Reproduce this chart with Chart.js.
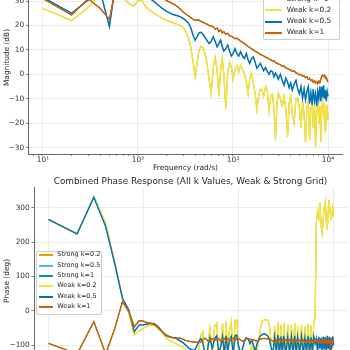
<!DOCTYPE html>
<html>
<head>
<meta charset="utf-8">
<script src="https://cdn.jsdelivr.net/npm/chart.js@4.4.1/dist/chart.umd.min.js"></script>
<style>
  body { margin:0; width:350px; height:350px; overflow:hidden; background:#fff; position:relative; font-family:'DejaVu Sans', sans-serif; }
  canvas { position:absolute; left:0; }
  #magChart { top:-50px; }
  #phaseChart { top:170px; }
  .title { position:absolute; left:0; width:381px; top:175.5px; line-height:11px; font-size:8.9px; text-align:center; color:#262626; white-space:nowrap; }
  .legend { position:absolute; box-sizing:border-box; background:rgba(255,255,255,0.8); border:1px solid #cccccc; border-radius:2px; }
  .swatch { position:absolute; }
  .entry { position:absolute; color:#262626; white-space:nowrap; }
</style>
</head>
<body>
<canvas id="magChart" width="350" height="226"></canvas>
<canvas id="phaseChart" width="350" height="230"></canvas>
<div class="title">Combined Phase Response (All k Values, Weak &amp; Strong Grid)</div>
<script>
// FREQUENCY GRID (rad/s)

const freq = [
  10, 20, 30, 40, 50, 60, 70, 80, 90, 100,
  110, 120, 130, 140, 150, 160, 170, 180, 190, 200,
  210, 220, 230, 240, 250, 260, 270, 280, 290, 300,
  320, 340, 360, 380, 400, 420, 440, 460, 480, 500,
  530, 560, 590, 620, 650, 680, 710, 740, 770, 800,
  840, 880, 920, 960, 1000, 1050, 1100, 1150, 1200, 1260,
  1320, 1380, 1440, 1500, 1570, 1640, 1710, 1780, 1860, 1940,
  2020, 2100, 2200, 2300, 2400, 2500, 2600, 2700, 2800, 2900,
  3000, 3150, 3300, 3450, 3600, 3750, 3900, 4050, 4200, 4400,
  4600, 4800, 5000, 5200, 5400, 5600, 5800, 6000, 6200, 6400,
  6600, 6800, 7000, 7200, 7400, 7600, 7800, 8000, 8200, 8400,
  8600, 8800, 9000, 9200, 9400, 9600, 9800, 10000
];

// MAGNITUDE (dB)

const magWeak02 = [
  27, 22, 27.5, 33, 36, 38, 31.5, 29, 28, 30,
  30.3, 27.8, 26.5, 25.6, 24.8, 24.2, 23.6, 23, 22.5, 22.1,
  21.8, 21.5, 21.2, 21, 20.6, 20.4, 20.2, 20, 19.6, 19,
  17.5, 15, 11, 5, -1, 5, 10, 11.5, 11, 9.5,
  5, -2, -8, 3, 7, 2, -9, 2, 6.5, 0,
  -14, 1, 5, 3, -2, 2, 3.5, 1, 3.8, 2,
  0.5, -3, -8, -2, 0.5, -4, -8, -14.6, -9, -6,
  -6.4, -9, -5, -7, -15, -9, -8, -14, -27, -12,
  -7.7, -10, -13, -9, -14, -25.5, -12, -9, -16, -20,
  -10, -9.8, -14, -22, -11, -16, -28, -13, -11, -27,
  -14, -12, -22, -13, -29.6, -12, -11, -20, -13, -27.6,
  -13, -11, -18, -12, -24, -16, -12.5, -18.7
];

const magWeak05 = [
  31.5, 25, 30.5, 34, 19.5, 41, 39, 37, 35.5, 34.5,
  33.5, 32.5, 31.5, 30.5, 29.6, 28.6, 27.8, 27, 26.4, 25.8,
  25.4, 25, 24.6, 24.4, 24.2, 24, 23.8, 23.5, 23.2, 22.8,
  22, 21, 19, 16, 14, 15.5, 17, 17.2, 16.5, 15.5,
  14, 12.6, 13.5, 15.4, 13.5, 11.3, 12.5, 14, 11.5, 9.5,
  10.5, 12, 9.5, 7.5, 8.5, 10.5, 8.5, 7.5, 9.3, 7.5,
  6.5, 8.6, 6, 4.5, 6.5, 7.2, 5, 2.5, 3.5, 4.5,
  3, 1.5, 2.8, 1.2, 0, 1.5, 1.1, -1, 0.5, -0.5,
  -2, 0, -2.5, -4.4, -1.5, -3, -5.5, -3.5, -6.4, -4,
  -2.5, -6, -8, -5, -9.8, -6, -10.5, -7, -5, -11.9,
  -7.5, -12.5, -6, -11, -8, -13, -7, -10, -5, -11,
  -5, -9.5, -4.5, -10, -6.5, -11, -7, -9
];

const magWeak1 = [
  31, 24.3, 31, 27, 22.5, 38, 40, 39, 38, 37.5,
  37, 36, 35, 34.3, 33.5, 32.8, 32, 31.3, 30.8, 30.2,
  29.8, 29.4, 29, 28.6, 28.2, 27.7, 27.2, 26.6, 26, 25.4,
  24.6, 24, 23.2, 22.5, 22.1, 22.3, 22.2, 21.6, 21.4, 21,
  20.6, 20, 19.8, 19.5, 18.5, 19, 17.5, 18.2, 17, 17.5,
  16.5, 16.8, 15.8, 15.6, 15.2, 14.6, 14.8, 14.2, 13.6, 13.2,
  12.6, 12, 11.4, 11, 10.4, 10, 9.4, 9.2, 8.6, 8.2,
  7.8, 7.6, 7, 6.8, 6.2, 6, 5.4, 5.6, 4.8, 4.6,
  4.2, 4, 3.2, 3.4, 2.6, 2.4, 2, 1.8, 1.2, 1.4,
  0.6, 0.4, -0.2, 0, -0.8, -0.6, -1.4, -1, -2, -1.6,
  -2.6, -2.2, -3.2, -2.6, -3.6, -3, -3.8, -2.8, -3.4, -2,
  -0.8, -0.3, -0.8, -0.4, -1.6, -1.2, -2.4, -3.2
];

// PHASE (deg)

const phaseWeak02 = [
  265, 222, 332, 255, 140, 40, -5, -70, -58, -50,
  -44, -41, -42, -48, -56, -65, -76, -82, -86, -89,
  -92, -95, -98, -100, -102, -104, -110, -118, -128, -138,
  -150, -158, -150, -120, -70, -60, -140, -155, -90, -50,
  -120, -46, -36, -140, -100, -35, -150, -31, -130, -60,
  -30, -150, -28, -26, -120, -150, -140, -118, -125, -150,
  -120, -100, -125, -140, -110, -80, -50, -30, -26, -25,
  -27, -35, -90, -150, -45, -140, -32, -150, -40, -150,
  -35, -150, -38, -140, -42, -150, -36, -150, -45, -145,
  -40, -150, -46, -140, -38, -150, -42, -140, -30, -17,
  255, 290, 270, 313, 250, 226, 270, 300, 318, 260,
  235, 290, 323, 290, 264, 280, 299, 270
];

const phaseWeak05 = [
  266, 224, 330, 245, 135, 37, 3, -60, -41, -40,
  -38, -36, -37, -44, -53, -62, -70, -74, -76, -77,
  -78, -80, -83, -86, -89, -92, -96, -100, -104, -108,
  -112, -115, -105, -90, -80, -90, -120, -135, -100, -78,
  -110, -80, -72, -120, -105, -75, -125, -72, -118, -90,
  -74, -125, -72, -70, -100, -125, -110, -90, -78, -80,
  -95, -85, -100, -118, -95, -80, -72, -68, -66, -68,
  -72, -80, -105, -125, -75, -120, -70, -125, -74, -122,
  -72, -125, -75, -120, -74, -125, -72, -122, -76, -120,
  -74, -125, -78, -118, -72, -125, -76, -120, -74, -95,
  -80, -118, -75, -110, -78, -120, -74, -112, -76, -118,
  -72, -110, -75, -115, -78, -108, -74, -100
];

const phaseWeak1 = [
  -94, -125, -31, -125, -50, 27, -2, -46, -28, -30,
  -34, -36, -40, -47, -55, -62, -68, -72, -75, -77,
  -78, -79, -79, -79, -80, -82, -84, -86, -87, -88,
  -89, -90, -91, -92, -90, -85, -79, -82, -88, -84,
  -80, -86, -82, -80, -88, -84, -80, -86, -80, -85,
  -82, -79, -86, -80, -80, -84, -88, -86, -82, -80,
  -82, -85, -83, -86, -88, -85, -82, -80, -80, -80,
  -81, -82, -84, -88, -92, -84, -90, -82, -90, -84,
  -90, -83, -91, -84, -90, -85, -92, -84, -90, -85,
  -91, -84, -92, -86, -90, -84, -92, -86, -90, -84,
  -90, -85, -93, -84, -92, -86, -94, -84, -92, -85,
  -95, -84, -92, -86, -94, -84, -92, -85
];

// strong-grid curves lie under the weak ones in the picture
const magStrong02 = magWeak02;
const magStrong05 = magWeak05;
const magStrong1 = magWeak1;
const phaseStrong02 = phaseWeak02;
const phaseStrong05 = phaseWeak05;
const phaseStrong1 = phaseWeak1;

// TICKS

const freqMajor = [10, 100, 1000, 10000];
const freqMinor = [8, 9, 20, 30, 40, 50, 60, 70, 80, 90, 200, 300, 400, 500, 600, 700, 800, 900,
                   2000, 3000, 4000, 5000, 6000, 7000, 8000, 9000];
const freqLabels = {10: '10\u00b9', 100: '10\u00b2', 1000: '10\u00b3', 10000: '10\u2074'};
const magTicks = [-30, -20, -10, 0, 10, 20, 30, 40];
const phaseTicks = [-100, 0, 100, 200, 300];

const seriesLabels = ['Strong k=0.2', 'Strong k=0.5', 'Strong k=1', 'Weak k=0.2', 'Weak k=0.5', 'Weak k=1'];
const seriesColors = ['#E69F00', '#56B4E9', '#009E73', '#F0E442', '#0072B2', '#D55E00'];


Chart.defaults.font.family = "'DejaVu Sans', sans-serif";
Chart.defaults.color = '#333';

const gridColor = '#e6e6e6';
const spineColor = '#666';

function makeSets(lists) {
  return lists.map((vals, i) => ({
    label: seriesLabels[i],
    data: freq.map((f, j) => ({x: f, y: vals[j]})),
    borderColor: seriesColors[i],
    borderWidth: i < 3 ? 1.1 : 1.4,
    pointRadius: 0,
    tension: 0,
    order: 5 - i
  }));
}

function xAxis(height) {
  return {
    type: 'logarithmic',
    min: 7.08,
    max: 14125,
    bounds: 'data',
    afterBuildTicks: s => { s.ticks = freqMajor.concat(freqMinor).sort((a, b) => a - b).map(v => ({value: v})); },
    afterFit: s => { s.height = height; },
    ticks: {
      autoSkip: false, maxRotation: 0, padding: 0,
      font: {size: 7.4}, color: '#333',
      callback: v => freqLabels[v] || ''
    },
    grid: {
      color: c => (c.tick && freqMajor.includes(c.tick.value)) ? gridColor : 'rgba(0,0,0,0)',
      lineWidth: 0.8, tickLength: 2, tickColor: spineColor, tickWidth: 0.8
    },
    border: {color: spineColor, width: 1},
    title: {display: true, text: 'Frequency (rad/s)', font: {size: 7.4}, color: '#262626', padding: {top: 0, bottom: 3.5}}
  };
}

function yAxis(min, max, ticks, title, width) {
  return {
    min: min,
    max: max,
    bounds: 'data',
    afterBuildTicks: s => { s.ticks = ticks.map(v => ({value: v})); },
    afterFit: s => { s.width = width; },
    ticks: {
      padding: 1.5, font: {size: 7.4}, color: '#333',
      callback: v => String(v).replace('-', '\u2212')
    },
    grid: {color: gridColor, lineWidth: 0.8, tickLength: 3, tickColor: spineColor, tickWidth: 0.8},
    border: {color: spineColor, width: 1},
    title: {display: true, text: title, font: {size: 7.4}, color: '#262626', padding: {top: 2.3, bottom: 0}}
  };
}

function baseOptions(padding, xScale, yScale) {
  return {
    responsive: false,
    animation: false,
    devicePixelRatio: 1,
    layout: {padding: padding},
    plugins: {legend: {display: false}, tooltip: {enabled: false}},
    scales: {x: xScale, y: yScale}
  };
}


// MAGNITUDE CHART

new Chart(document.getElementById('magChart'), {
  type: 'line',
  data: {datasets: makeSets([magStrong02, magStrong05, magStrong1, magWeak02, magWeak05, magWeak1])},
  options: baseOptions({top: 11, right: 7.75, left: 0, bottom: 0},
    xAxis(22), yAxis(-32.6, 46.4, magTicks, 'Magnitude (dB)', 28.75))
});


// PHASE CHART

new Chart(document.getElementById('phaseChart'), {
  type: 'line',
  data: {datasets: makeSets([phaseStrong02, phaseStrong05, phaseStrong1, phaseWeak02, phaseWeak05, phaseWeak1])},
  options: baseOptions({top: 17, right: 2.25, left: 0, bottom: 0},
    xAxis(25), yAxis(-186, 360, phaseTicks, 'Phase (deg)', 34.25))
});


// LEGENDS

function drawLegend(o) {
  const box = document.createElement('div');
  box.className = 'legend';
  Object.assign(box.style, {
    left: o.left + 'px', top: o.top + 'px',
    width: (o.right - o.left) + 'px', height: (o.bottom - o.top) + 'px'
  });
  document.body.appendChild(box);

  seriesLabels.forEach((label, i) => {
    const y = o.firstRow + i * o.rowGap;
    const line = document.createElement('div');
    line.className = 'swatch';
    Object.assign(line.style, {
      left: o.lineX0 + 'px', width: (o.lineX1 - o.lineX0) + 'px',
      top: Math.round(y - 1) + 'px', height: '1.5px', background: seriesColors[i]
    });
    document.body.appendChild(line);

    const text = document.createElement('div');
    text.className = 'entry';
    text.textContent = label;
    Object.assign(text.style, {
      left: o.textX + 'px', top: (y - o.font * 0.6) + 'px',
      fontSize: o.font + 'px', lineHeight: (o.font * 1.2) + 'px'
    });
    document.body.appendChild(text);
  });
}

drawLegend({left: 263.3, right: 340, top: -30, bottom: 39.5,
  firstRow: -23, rowGap: 11.16, lineX0: 265, lineX1: 282, textX: 286.7, font: 7.35});

drawLegend({left: 36, right: 102, top: 251, bottom: 315,
  firstRow: 255.3, rowGap: 10.35, lineX0: 39, lineX1: 53, textX: 57.3, font: 6.5});
</script>
</body>
</html>
